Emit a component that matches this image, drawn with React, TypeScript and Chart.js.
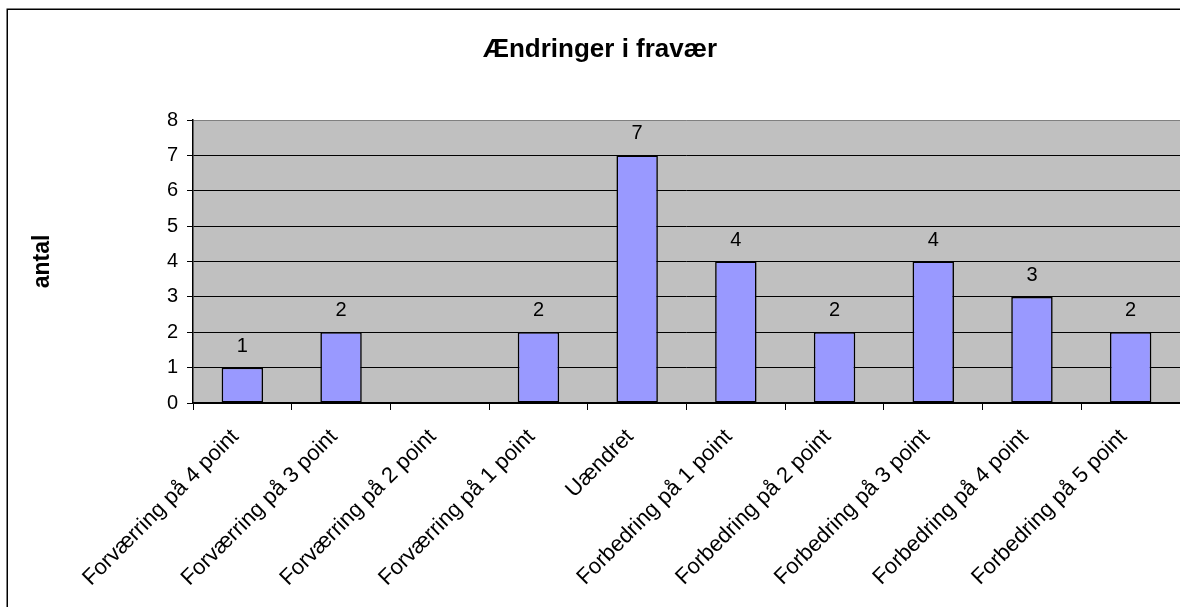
import React, { useEffect, useRef } from "react";
import { Chart, registerables } from "chart.js";

Chart.register(...registerables);

const chartTitle = "Ændringer i fravær";
const yAxisTitle = "antal";
const categories = [
  "Forværring på 4 point",
  "Forværring på 3 point",
  "Forværring på 2 point",
  "Forværring på 1 point",
  "Uændret",
  "Forbedring på 1 point",
  "Forbedring på 2 point",
  "Forbedring på 3 point",
  "Forbedring på 4 point",
  "Forbedring på 5 point",
];
const values: (number | null)[] = [1, 2, null, 2, 7, 4, 2, 4, 3, 2];
const yTicks = [0, 1, 2, 3, 4, 5, 6, 7, 8];

const FONT = "'Liberation Sans', Arial, Helvetica, sans-serif";

const plotBg = {
  id: "plotBg",
  beforeDraw(chart: any) {
    const { ctx, chartArea } = chart;
    if (!chartArea) return;
    ctx.save();
    ctx.fillStyle = "#C0C0C0";
    ctx.fillRect(chartArea.left, chartArea.top, chartArea.right - chartArea.left, chartArea.bottom - chartArea.top);
    ctx.restore();
  },
};

const frame = {
  id: "frame",
  afterDraw(chart: any) {
    const { ctx } = chart;
    ctx.save();
    ctx.strokeStyle = "#000";
    ctx.lineWidth = 1.5;
    ctx.beginPath();
    ctx.moveTo(7.25, chart.height + 5);
    ctx.lineTo(7.25, 9.25);
    ctx.lineTo(chart.width + 5, 9.25);
    ctx.stroke();
    ctx.restore();
  },
};

const dataLabels = {
  id: "dataLabels",
  afterDatasetsDraw(chart: any) {
    const { ctx } = chart;
    const meta = chart.getDatasetMeta(0);
    ctx.save();
    ctx.font = `20px ${FONT}`;
    ctx.fillStyle = "#000";
    ctx.textAlign = "center";
    ctx.textBaseline = "alphabetic";
    meta.data.forEach((el: any, i: number) => {
      const v = values[i];
      if (v === null || v === undefined) return;
      ctx.fillText(String(v), el.x, el.y - 16);
    });
    ctx.restore();
  },
};

export default function App() {
  const ref = useRef<HTMLCanvasElement | null>(null);

  useEffect(() => {
    if (!ref.current) return;
    const chart = new Chart(ref.current, {
      type: "bar",
      data: {
        labels: categories,
        datasets: [
          {
            label: yAxisTitle,
            data: values as any,
            backgroundColor: "#9999FF",
            borderColor: "#000000",
            borderWidth: 1.6,
            borderSkipped: false,
            barPercentage: 0.42,
            categoryPercentage: 1.0,
          },
        ],
      },
      options: {
        responsive: false,
        animation: false,
        layout: { padding: { left: 20, right: 0, top: 0, bottom: 0 } },
        plugins: {
          legend: { display: false },
          tooltip: { enabled: false },
          title: {
            display: true,
            text: chartTitle,
            color: "#000",
            font: { family: FONT, size: 26, weight: "bold" },
            padding: { top: 33.9, bottom: 54.9 },
          },
        },
        scales: {
          x: {
            offset: true,
            grid: {
              display: true,
              drawOnChartArea: false,
              drawTicks: true,
              tickLength: 7,
              color: "#000",
              offset: true,
            },
            border: { display: true, color: "#000", width: 1.5 },
            ticks: {
              autoSkip: false,
              maxRotation: 45,
              minRotation: 45,
              padding: 14,
              labelOffset: -7,
              color: "#000",
              font: { family: FONT, size: 22 },
            },
            afterFit: (s: any) => {
              s.height = 204;
            },
          },
          y: {
            min: yTicks[0],
            max: yTicks[yTicks.length - 1],
            ticks: {
              stepSize: 1,
              padding: 9,
              color: "#000",
              font: { family: FONT, size: 20 },
            },
            grid: {
              color: (c: any) => (c.tick && c.tick.value === yTicks[yTicks.length - 1] ? "#808080" : "#000"),
              tickColor: "#000",
              tickLength: 6,
              lineWidth: 1,
            },
            border: { display: true, color: "#000", width: 1.5 },
            title: {
              display: true,
              text: yAxisTitle,
              color: "#000",
              font: { family: FONT, size: 23, weight: "bold" },
              padding: { top: 9, bottom: 0 },
            },
            afterFit: (s: any) => {
              s.width = 173;
            },
          },
        },
      } as any,
      plugins: [plotBg, dataLabels, frame],
    });
    return () => chart.destroy();
  }, []);

  return (
    <div style={{ position: "fixed", left: 0, top: 0, width: 1180, height: 607, overflow: "hidden", background: "#fff" }}>
      <canvas ref={ref} width={1180} height={607} style={{ display: "block" }} />
    </div>
  );
}
